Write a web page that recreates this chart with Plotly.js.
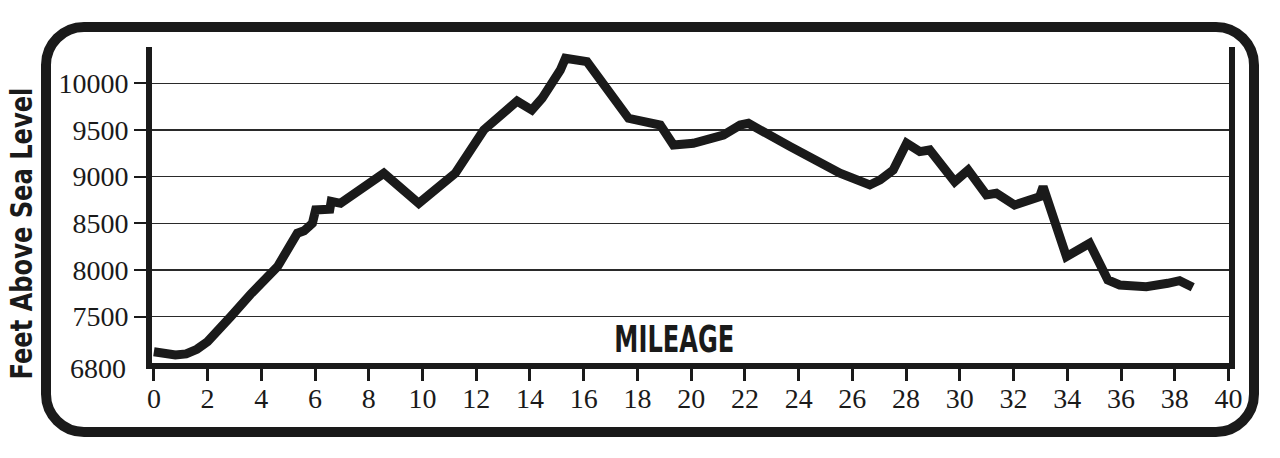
<!DOCTYPE html>
<html><head><meta charset="utf-8">
<script src="https://cdn.plot.ly/plotly-3.0.1.min.js"></script>
<style>html,body{margin:0;padding:0;background:#fff;} #chart{width:1280px;height:458px;}</style>
</head><body><div id="chart"></div>
<script>
// ---- data ----
const mileage = [0.0, 0.4, 0.8, 1.2, 1.6, 2.0, 2.4, 2.86, 3.6, 4.35, 4.6, 5.34, 5.59, 5.9, 6.02, 6.55, 6.6, 6.95, 8.56, 9.86, 11.22, 12.28, 13.52, 14.07, 14.45, 15.13, 15.32, 16.12, 16.87, 17.67, 18.85, 19.34, 20.08, 21.2, 21.82, 22.13, 23.69, 25.54, 26.65, 27.03, 27.52, 28.02, 28.51, 28.88, 29.81, 30.31, 30.99, 31.36, 32.04, 32.97, 33.1, 33.97, 34.83, 35.51, 35.95, 36.94, 37.74, 38.18, 38.67];
const elevation = [7124, 7100, 7089, 7100, 7150, 7232, 7350, 7500, 7740, 7964, 8035, 8393, 8420, 8500, 8643, 8650, 8735, 8714, 9036, 8714, 9036, 9500, 9810, 9714, 9839, 10142, 10268, 10232, 9928, 9625, 9553, 9339, 9357, 9446, 9553, 9571, 9321, 9036, 8911, 8964, 9071, 9357, 9268, 9286, 8946, 9071, 8804, 8821, 8696, 8785, 8893, 8143, 8286, 7893, 7839, 7821, 7857, 7885, 7814];
const xTickVals = [0,2,4,6,8,10,12,14,16,18,20,22,24,26,28,30,32,34,36,38,40];
const yTickVals = [7500, 8000, 8500, 9000, 9500, 10000];
const yTickText = ['7500', '8000', '8500', '9000', '9500', '10000'];
const yBottomLabel = '6800';
const xTitle = 'MILEAGE';
const yTitle = 'Feet Above Sea Level';

// ---- layout geometry ----
const W = 1280, H = 458;
const M = {l: 152, r: 51, t: 47, b: 95};
const pw = W - M.l - M.r, ph = H - M.t - M.b;
const fx = p => (p - M.l) / pw;
const fy = p => (H - M.b - p) / ph;
const BL = 46, BR = 1254, BT = 27, BB = 432, RAD = 38, K = 0.5523 * RAD;
const framePath = [
  'M', fx(BL + RAD), fy(BT),
  'L', fx(BR - RAD), fy(BT),
  'C', fx(BR - RAD + K), fy(BT), fx(BR), fy(BT + RAD - K), fx(BR), fy(BT + RAD),
  'L', fx(BR), fy(BB - RAD),
  'C', fx(BR), fy(BB - RAD + K), fx(BR - RAD + K), fy(BB), fx(BR - RAD), fy(BB),
  'L', fx(BL + RAD), fy(BB),
  'C', fx(BL + RAD - K), fy(BB), fx(BL), fy(BB - RAD + K), fx(BL), fy(BB - RAD),
  'L', fx(BL), fy(BT + RAD),
  'C', fx(BL), fy(BT + RAD - K), fx(BL + RAD - K), fy(BT), fx(BL + RAD), fy(BT),
  'Z'
].join(' ');

const ink = '#1a1a1a';
const serif = 'Liberation Serif, DejaVu Serif, serif';
const heavy = 'DejaVu Sans, Liberation Sans, sans-serif';

const trace = {
  x: mileage, y: elevation, type: 'scatter', mode: 'lines',
  line: {color: ink, width: 9}, hoverinfo: 'skip'
};

const layout = {
  width: W, height: H,
  margin: M,
  paper_bgcolor: '#fff', plot_bgcolor: '#fff',
  showlegend: false, hovermode: false,
  xaxis: {
    range: [-0.07, 40.02], tickmode: 'array', tickvals: xTickVals,
    showgrid: false, zeroline: false,
    showline: true, linecolor: ink, linewidth: 6, mirror: false,
    ticks: 'outside', ticklen: 12, tickwidth: 3, tickcolor: ink,
    ticklabelstandoff: -7,
    tickfont: {family: serif, size: 28, color: ink}
  },
  yaxis: {
    range: [7003, 10389], tickmode: 'array', tickvals: yTickVals, ticktext: yTickText,
    showgrid: true, gridcolor: '#2a2a2a', gridwidth: 1.5, zeroline: false,
    showline: true, linecolor: ink, linewidth: 6, mirror: true,
    ticks: 'outside', ticklen: 12, tickwidth: 2, tickcolor: ink,
    tickfont: {family: serif, size: 28, color: ink}
  },
  shapes: [{type: 'path', xref: 'paper', yref: 'paper', path: framePath,
            line: {color: ink, width: 10}, fillcolor: 'rgba(0,0,0,0)'}],
  annotations: [
    {text: xTitle, xref: 'paper', yref: 'paper', x: fx(674), y: fy(339),
     xanchor: 'center', yanchor: 'middle', showarrow: false,
     font: {family: heavy, size: 38, color: ink, weight: 'bold'}},
    {text: yTitle, xref: 'paper', yref: 'paper', x: fx(21), y: fy(234), textangle: -90,
     xanchor: 'center', yanchor: 'middle', showarrow: false,
     font: {family: heavy, size: 31, color: ink, weight: 'bold'}},
    {text: yBottomLabel, xref: 'paper', yref: 'paper', x: 0, y: 0,
     xanchor: 'right', yanchor: 'middle', xshift: -24, yshift: -5, showarrow: false,
     font: {family: serif, size: 28, color: ink}}
  ]
};

Plotly.newPlot('chart', [trace], layout, {staticPlot: true, displayModeBar: false}).then(gd => {
  // condense the heavy headline lettering to match the narrow poster type
  gd.querySelectorAll('.annotation-text').forEach(t => {
    if (t.textContent === xTitle) { t.setAttribute('textLength', '120'); t.setAttribute('lengthAdjust', 'spacingAndGlyphs'); }
    if (t.textContent === yTitle) { t.setAttribute('textLength', '292'); t.setAttribute('lengthAdjust', 'spacingAndGlyphs'); }
  });
});
</script>
</body></html>
